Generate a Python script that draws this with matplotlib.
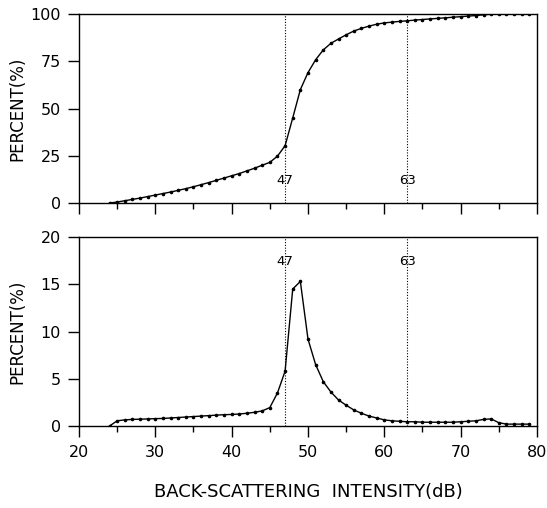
import matplotlib
matplotlib.use('Agg')
import matplotlib.pyplot as plt
import numpy as np

# back-scattering intensity (dB), one point per dB
db = list(range(24, 80))

# cumulative percent (top panel)
cum_pct = [0.0, 0.5, 1.2, 1.9, 2.6, 3.4, 4.2, 5.0, 5.8, 6.7,
           7.6, 8.6, 9.7, 10.8, 12.0, 13.2, 14.4, 15.6, 17.0, 18.4,
           20.0, 21.5, 24.8, 30.3, 45.0, 60.0, 69.0, 75.8, 81.0, 84.5,
           86.8, 89.0, 91.0, 92.4, 93.6, 94.6, 95.3, 95.7, 96.1, 96.4,
           96.8, 97.1, 97.4, 97.7, 98.0, 98.3, 98.6, 98.9, 99.2, 99.6,
           99.9, 100.0, 100.0, 100.0, 100.0, 100.0]

# frequency percent (bottom panel)
freq_pct = [0.0, 0.55, 0.65, 0.7, 0.72, 0.75, 0.78, 0.8, 0.85, 0.9,
            0.95, 1.0, 1.05, 1.1, 1.15, 1.2, 1.22, 1.27, 1.35, 1.45,
            1.6, 1.95, 3.5, 5.8, 14.5, 15.3, 9.2, 6.5, 4.7, 3.6,
            2.75, 2.2, 1.7, 1.35, 1.05, 0.85, 0.65, 0.55, 0.5, 0.45,
            0.45, 0.4, 0.4, 0.4, 0.4, 0.4, 0.45, 0.5, 0.55, 0.7,
            0.75, 0.35, 0.2, 0.2, 0.2, 0.2]

marks = [47, 63]
top_yticks = [0, 25, 50, 75, 100]
bot_yticks = [0, 5, 10, 15, 20]
x_ticks = [20, 30, 40, 50, 60, 70, 80]

fig = plt.figure(figsize=(5.47, 5.08), dpi=100)
ax1 = fig.add_axes([0.1444, 0.6004, 0.8373, 0.372])
ax2 = fig.add_axes([0.1444, 0.1614, 0.8373, 0.372])

def style_axis(ax, yticks, ymax):
    ax.set_xlim(20, 80)
    ax.set_ylim(0, ymax)
    ax.set_xticks(x_ticks)
    ax.set_xticks(np.arange(25, 80, 10), minor=True)
    ax.set_yticks(yticks)
    ax.tick_params(axis='x', which='major', direction='out', length=8, width=1, labelsize=11.5, pad=6)
    ax.tick_params(axis='x', which='minor', direction='out', length=4, width=1)
    ax.tick_params(axis='y', direction='out', length=8, width=1, labelsize=11.5, pad=5)
    for s in ax.spines.values():
        s.set_linewidth(1.0)
    ax.set_ylabel('PERCENT(%)', fontsize=12)
    ax.yaxis.set_label_coords(-0.114, 0.5)

ax1.plot(db, cum_pct, color='black', lw=1.0, marker='o', ms=1.6)
ax2.plot(db, freq_pct, color='black', lw=1.0, marker='o', ms=1.6)

style_axis(ax1, top_yticks, 100)
style_axis(ax2, bot_yticks, 20)
ax1.tick_params(axis='x', labelbottom=False)

for m in marks:
    ax1.axvline(m, color='black', lw=0.8, ls=(0, (1, 1.5)))
    ax2.axvline(m, color='black', lw=0.8, ls=(0, (1, 1.5)))
    ax1.text(m, 12, str(m), ha='center', va='center', fontsize=9.5)
    ax2.text(m, 17.4, str(m), ha='center', va='center', fontsize=9.5)

ax2.set_xlabel('BACK-SCATTERING  INTENSITY(dB)', fontsize=13, labelpad=16)

fig.savefig('out.png', dpi=100)
plt.close('all')
